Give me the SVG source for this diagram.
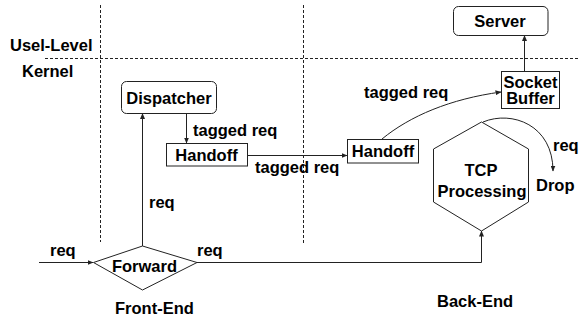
<svg xmlns="http://www.w3.org/2000/svg" width="579" height="320" viewBox="0 0 579 320">
<defs>
<marker id="ah" markerWidth="6" markerHeight="5" refX="5.5" refY="2.5" orient="auto" markerUnits="userSpaceOnUse">
<path d="M0,0 L6,2.5 L0,5 Z" fill="#222"/>
</marker>
<style>
text{font-family:"Liberation Sans",Arial,Helvetica,sans-serif;font-weight:bold;font-size:16.5px;fill:#000}
.c{text-anchor:middle}
.box{fill:#fff;stroke:#222;stroke-width:1}
.ln{fill:none;stroke:#222;stroke-width:1}
.dash{fill:none;stroke:#222;stroke-width:1;stroke-dasharray:3,2}
</style>
</defs>
<rect width="579" height="320" fill="#fff"/>
<g id="boundaries">
<line class="dash" x1="100.5" y1="5" x2="100.5" y2="242"/>
<line class="dash" x1="303.5" y1="5" x2="303.5" y2="243"/>
<line class="dash" x1="45" y1="58.5" x2="579" y2="58.5"/>
<text x="10" y="50.5">Usel-Level</text>
<text x="22" y="76.5">Kernel</text>
<text x="115" y="314">Front-End</text>
<text x="437" y="307">Back-End</text>
</g>
<g id="connectors">
<line class="ln" x1="39" y1="262.5" x2="93" y2="262.5" marker-end="url(#ah)"/>
<line class="ln" x1="142.5" y1="246" x2="142.5" y2="113.5" marker-end="url(#ah)"/>
<line class="ln" x1="186.5" y1="113.5" x2="186.5" y2="143" marker-end="url(#ah)"/>
<line class="ln" x1="248" y1="155.5" x2="347" y2="155.5" marker-end="url(#ah)"/>
<path class="ln" d="M382,139 C410,116 450,99 501,92" marker-end="url(#ah)"/>
<line class="ln" x1="524.5" y1="71" x2="524.5" y2="35.5" marker-end="url(#ah)"/>
<polyline class="ln" points="197,262.5 481.5,262.5 481.5,231" marker-end="url(#ah)"/>
<path class="ln" d="M483,122 C512,110 553,125 553,171" marker-end="url(#ah)"/>
<text x="50" y="256">req</text>
<text x="149" y="207.5">req</text>
<text x="197" y="256">req</text>
<text x="193" y="136">tagged req</text>
<text x="255" y="173">tagged req</text>
<text x="364" y="98">tagged req</text>
<text x="553" y="151">req</text>
<text x="536" y="191">Drop</text>
</g>
<g id="dispatcher">
<rect class="box" x="121.5" y="81.5" width="95" height="32" rx="5"/>
<text class="c" x="169" y="103.5">Dispatcher</text>
</g>
<g id="handoff1">
<rect class="box" x="166.5" y="143.5" width="81" height="22.5"/>
<text class="c" x="206.5" y="161">Handoff</text>
</g>
<g id="handoff2">
<rect class="box" x="347.5" y="139.5" width="71" height="23.5"/>
<text class="c" x="383" y="157">Handoff</text>
</g>
<g id="socket-buffer">
<rect class="box" x="501.5" y="71.5" width="58" height="37"/>
<text class="c" x="530.5" y="87.5">Socket</text>
<text class="c" x="530.5" y="104">Buffer</text>
</g>
<g id="server">
<rect class="box" x="453.5" y="6.5" width="94.5" height="29" rx="5"/>
<text class="c" x="500" y="27">Server</text>
</g>
<g id="tcp-processing">
<polygon class="box" points="481.5,122 433.5,149 433.5,202 481.5,231 528.5,202 528.5,149"/>
<text class="c" x="481" y="176">TCP</text>
<text class="c" x="482" y="197">Processing</text>
</g>
<g id="forward">
<polygon class="box" fill-opacity="0" points="93.5,262.5 142.5,246 197,262.5 142.5,290"/>
<text class="c" x="144.5" y="272">Forward</text>
</g>
</svg>
